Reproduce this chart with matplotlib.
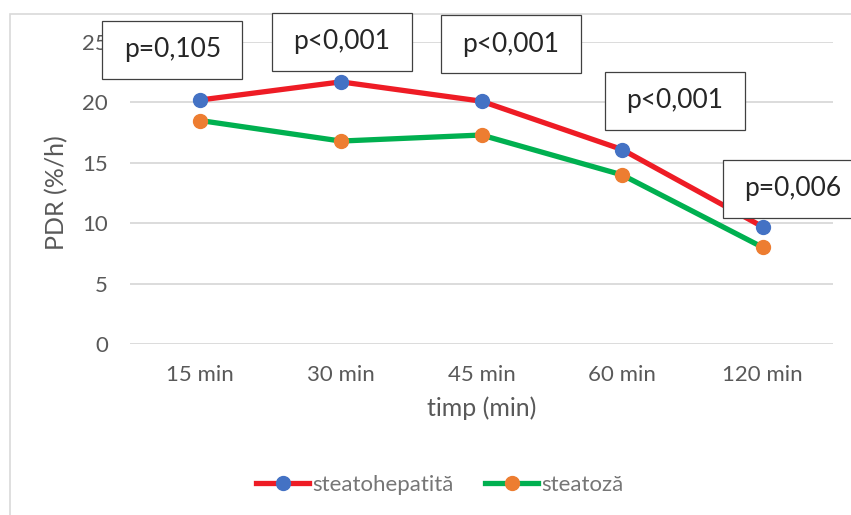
import matplotlib
matplotlib.use("Agg")
import matplotlib.pyplot as plt
from matplotlib.patches import Rectangle
from matplotlib.lines import Line2D
from matplotlib.transforms import Affine2D

plt.rcParams['font.family'] = ['Lato', 'DejaVu Sans']

categories = ["15 min", "30 min", "45 min", "60 min", "120 min"]
steatohepatita = [20.2, 21.7, 20.1, 16.1, 9.7]
steatoza = [18.5, 16.8, 17.3, 14.0, 8.0]
p_labels = ["p=0,105", "p<0,001", "p<0,001", "p<0,001", "p=0,006"]
# label box offsets (pixels) relative to the upper series point
p_offsets = [(-28, 50), (1, 40), (29, 57), (53, 49), (30, 38)]
BOX_W, BOX_H = 140, 58

W, H = 851, 515
fig = plt.figure(figsize=(W / 100, H / 100), dpi=100)

# chart frame
fig.patches.append(Rectangle((10 / W, -0.1), 2.0, 1.1 - 14 / H,
                             transform=fig.transFigure, fill=False,
                             edgecolor="#D9D9D9", linewidth=1.2))

left, right, bottom, top = 130 / W, 833 / W, 1 - 344 / H, 1 - 42 / H
ax = fig.add_axes([left, bottom, right - left, top - bottom])
x = list(range(len(categories)))

ax.set_ylim(0, 25)
ax.set_xlim(-0.5, len(categories) - 0.5)
ax.set_yticks([0, 5, 10, 15, 20, 25])
ax.set_xticks(x)
ax.set_xticklabels(categories)
ax.yaxis.grid(True, color="#D9D9D9", linewidth=1.3)
ax.set_axisbelow(True)
for s in ax.spines.values():
    s.set_visible(False)
ax.tick_params(axis="both", length=0, labelsize=16, colors="#595959")
ax.tick_params(axis="x", pad=15)
ax.tick_params(axis="y", pad=16)

ax.plot(x, steatohepatita, color="#EE1C25", linewidth=3.8, marker="o",
        markersize=10, markerfacecolor="#4472C4", markeredgecolor="#4472C4",
        label="steatohepatită", zorder=3, solid_capstyle="round")
ax.plot(x, steatoza, color="#00B050", linewidth=3.8, marker="o",
        markersize=10, markerfacecolor="#ED7D31", markeredgecolor="#ED7D31",
        label="steatoză", zorder=3, solid_capstyle="round")

# p-value boxes of fixed pixel size, placed relative to the data points
for xi, yi, txt, (dx, dy) in zip(x, steatohepatita, p_labels, p_offsets):
    px, py = ax.transData.transform((xi, yi))
    cx, cy = px + dx, py + dy
    t = Affine2D().translate(cx, cy)
    fig.add_artist(Rectangle((-BOX_W / 2, -BOX_H / 2), BOX_W, BOX_H,
                             transform=t, facecolor="white",
                             edgecolor="#404040", linewidth=0.9, zorder=5))
    fig.add_artist(plt.Text(0, 0, txt, transform=t, ha="center",
                            va="center", fontsize=19, color="#262626",
                            zorder=6))

ax.set_xlabel("timp (min)", fontsize=18, color="#595959")
ax.set_ylabel("PDR (%/h)", fontsize=18, color="#595959")
ax.xaxis.set_label_coords(0.5, (344 - 408) / 302)
ax.xaxis.label.set_va("center")
ax.yaxis.set_label_coords((57 - 130) / 703, 0.5)
ax.yaxis.label.set_va("center")

handles = [
    Line2D([], [], color="#EE1C25", linewidth=3.8, marker="o", markersize=10,
           markerfacecolor="#4472C4", markeredgecolor="#4472C4"),
    Line2D([], [], color="#00B050", linewidth=3.8, marker="o", markersize=10,
           markerfacecolor="#ED7D31", markeredgecolor="#ED7D31"),
]
fig.legend(handles, ["steatohepatită", "steatoză"], loc="center",
           bbox_to_anchor=(440 / W, 1 - 485 / H), ncol=2, frameon=False,
           fontsize=16, labelcolor="#767676", handlelength=2.4,
           handletextpad=0.15, columnspacing=1.4)

fig.savefig("out.png", dpi=100)
